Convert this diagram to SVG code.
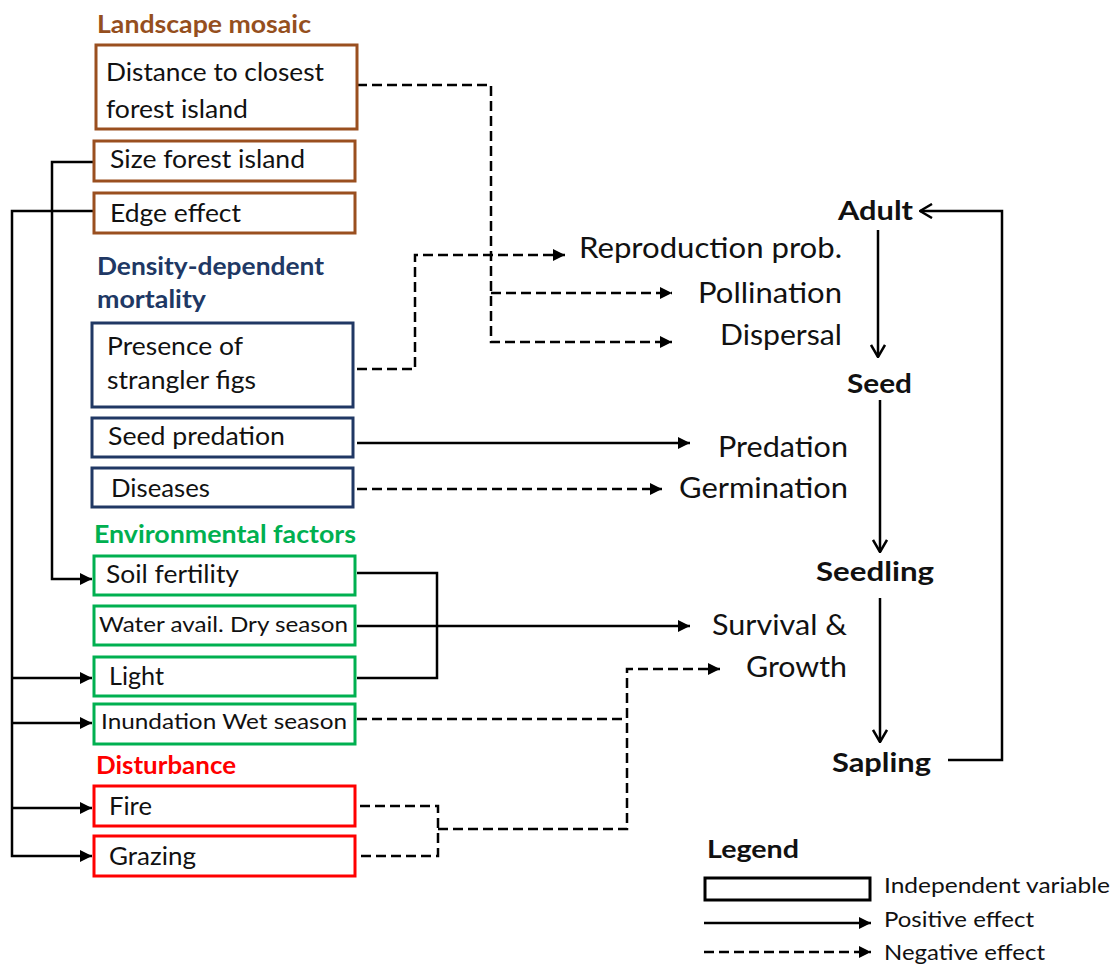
<svg xmlns="http://www.w3.org/2000/svg" width="1116" height="967" viewBox="0 0 1116 967">
<defs>
<style>
text{font-family:Lato,"Liberation Sans",sans-serif;fill:#111}
.hd{font-weight:bold;font-size:24px}
.bx{font-size:25px}
.sm{font-size:21.5px}
.lbl{font-size:29px}
.lc{font-weight:bold;font-size:27px}
.lg{font-size:21px}
.brown{stroke:#9A4F1F}
.navy{stroke:#203864}
.green{stroke:#00B050}
.red{stroke:#FF0000}
rect{fill:#fff;stroke-width:3}
.c{fill:none;stroke:#000;stroke-width:2.5}
.d{stroke-dasharray:10 5}
</style>
<marker id="ah" viewBox="0 0 10 10" refX="10" refY="5" markerWidth="12" markerHeight="12" markerUnits="userSpaceOnUse" orient="auto"><path d="M0,0 L10,5 L0,10 Z" fill="#000"/></marker>
<marker id="av" viewBox="0 0 14 16" refX="13" refY="8" markerWidth="14" markerHeight="16" markerUnits="userSpaceOnUse" orient="auto"><path d="M1,1 L13,8 L1,15" fill="none" stroke="#000" stroke-width="2.5"/></marker>
</defs>
<rect width="1116" height="967" style="fill:#fff;stroke:none"/>

<g id="headers">
<text class="hd" x="97" y="33" textLength="214" lengthAdjust="spacingAndGlyphs" style="fill:#954F1E">Landscape mosaic</text>
<text class="hd" x="97" y="275" textLength="227" lengthAdjust="spacingAndGlyphs" style="fill:#203864">Density-dependent</text>
<text class="hd" x="97" y="308" textLength="109" lengthAdjust="spacingAndGlyphs" style="fill:#203864">mortality</text>
<text class="hd" x="94" y="543" textLength="262" lengthAdjust="spacingAndGlyphs" style="fill:#00B050">Environmental factors</text>
<text class="hd" x="96" y="774" textLength="140" lengthAdjust="spacingAndGlyphs" style="fill:#FF0000">Disturbance</text>
</g>

<g id="connectors">
<path class="c d" d="M357,85 H491 V342 H672" marker-end="url(#ah)"/>
<path class="c d" d="M491,293 H672" marker-end="url(#ah)"/>
<path class="c d" d="M357,369 H415 V255 H565" marker-end="url(#ah)"/>
<path class="c" d="M357,443 H690" marker-end="url(#ah)"/>
<path class="c d" d="M357,489 H662" marker-end="url(#ah)"/>
<path class="c" d="M357,573 H437 V678 H357"/>
<path class="c" d="M357,626 H690" marker-end="url(#ah)"/>
<path class="c d" d="M357,719 H627"/>
<path class="c d" d="M360,806 H438 V856 H360"/>
<path class="c d" d="M438,829 H627 V669 H720" marker-end="url(#ah)"/>
<path class="c" d="M94,162 H52 V579 H92" marker-end="url(#ah)"/>
<path class="c" d="M94,211 H12 V856 H92" marker-end="url(#ah)"/>
<path class="c" d="M12,678 H92" marker-end="url(#ah)"/>
<path class="c" d="M12,723 H92" marker-end="url(#ah)"/>
<path class="c" d="M12,808 H92" marker-end="url(#ah)"/>
<path class="c" d="M878,230 V357" marker-end="url(#av)"/>
<path class="c" d="M880,400 V552" marker-end="url(#av)"/>
<path class="c" d="M880,598 V742" marker-end="url(#av)"/>
<path class="c" d="M948,760 H1002 V211 H920" marker-end="url(#av)"/>
</g>

<g id="distance"><rect class="brown" x="96" y="45" width="261" height="84"/><text class="bx" x="106" y="81" textLength="218" lengthAdjust="spacingAndGlyphs">Distance to closest</text><text class="bx" x="106" y="118" textLength="142" lengthAdjust="spacingAndGlyphs">forest island</text></g>
<g id="size"><rect class="brown" x="94" y="141" width="261" height="40"/><text class="bx" x="110" y="168" textLength="195" lengthAdjust="spacingAndGlyphs">Size forest island</text></g>
<g id="edge"><rect class="brown" x="94" y="193" width="261" height="40"/><text class="bx" x="110" y="222" textLength="131" lengthAdjust="spacingAndGlyphs">Edge effect</text></g>
<g id="strangler"><rect class="navy" x="92" y="323" width="261" height="84"/><text class="bx" x="107" y="355" textLength="136" lengthAdjust="spacingAndGlyphs">Presence of</text><text class="bx" x="107" y="389" textLength="149" lengthAdjust="spacingAndGlyphs">strangler figs</text></g>
<g id="seedpred"><rect class="navy" x="92" y="418" width="261" height="39"/><text class="bx" x="108" y="445" textLength="177" lengthAdjust="spacingAndGlyphs">Seed predation</text></g>
<g id="diseases"><rect class="navy" x="92" y="468" width="261" height="39"/><text class="bx" x="111" y="497" textLength="99" lengthAdjust="spacingAndGlyphs">Diseases</text></g>
<g id="soil"><rect class="green" x="94" y="556" width="261" height="39"/><text class="bx" x="106" y="583" textLength="133" lengthAdjust="spacingAndGlyphs">Soil fertility</text></g>
<g id="water"><rect class="green" x="94" y="606" width="261" height="39"/><text class="sm" x="99" y="632" textLength="249" lengthAdjust="spacingAndGlyphs">Water avail. Dry season</text></g>
<g id="light"><rect class="green" x="94" y="657" width="261" height="39"/><text class="bx" x="109" y="685" textLength="55" lengthAdjust="spacingAndGlyphs">Light</text></g>
<g id="inundation"><rect class="green" x="94" y="704" width="261" height="40"/><text class="sm" x="101" y="729" textLength="246" lengthAdjust="spacingAndGlyphs">Inundation Wet season</text></g>
<g id="fire"><rect class="red" x="94" y="786" width="261" height="40"/><text class="bx" x="109" y="815" textLength="43" lengthAdjust="spacingAndGlyphs">Fire</text></g>
<g id="grazing"><rect class="red" x="94" y="836" width="261" height="40"/><text class="bx" x="109" y="865" textLength="87" lengthAdjust="spacingAndGlyphs">Grazing</text></g>

<g id="processes">
<text class="lbl" x="579" y="258" textLength="263" lengthAdjust="spacingAndGlyphs">Reproduction prob.</text>
<text class="lbl" x="698" y="303" textLength="144" lengthAdjust="spacingAndGlyphs">Pollination</text>
<text class="lbl" x="720" y="345" textLength="122" lengthAdjust="spacingAndGlyphs">Dispersal</text>
<text class="lbl" x="718" y="457" textLength="130" lengthAdjust="spacingAndGlyphs">Predation</text>
<text class="lbl" x="679" y="498" textLength="169" lengthAdjust="spacingAndGlyphs">Germination</text>
<text class="lbl" x="712" y="635" textLength="135" lengthAdjust="spacingAndGlyphs">Survival &amp;</text>
<text class="lbl" x="746" y="677" textLength="101" lengthAdjust="spacingAndGlyphs">Growth</text>
</g>

<g id="adult"><text class="lc" x="838" y="220" textLength="75" lengthAdjust="spacingAndGlyphs">Adult</text></g>
<g id="seed"><text class="lc" x="847" y="393" textLength="65" lengthAdjust="spacingAndGlyphs">Seed</text></g>
<g id="seedling"><text class="lc" x="816" y="581" textLength="118" lengthAdjust="spacingAndGlyphs">Seedling</text></g>
<g id="sapling"><text class="lc" x="832" y="772" textLength="99" lengthAdjust="spacingAndGlyphs">Sapling</text></g>

<g id="legend">
<text class="lc" x="707" y="858" textLength="92" lengthAdjust="spacingAndGlyphs" style="font-size:25px">Legend</text>
<rect x="705" y="878" width="165" height="22" style="stroke:#000;stroke-width:3"/>
<text class="lg" x="884" y="893" textLength="226" lengthAdjust="spacingAndGlyphs">Independent variable</text>
<path class="c" d="M704,923 H871" marker-end="url(#ah)"/>
<text class="lg" x="884" y="927" textLength="150" lengthAdjust="spacingAndGlyphs">Positive effect</text>
<path class="c d" d="M704,952 H871" marker-end="url(#ah)"/>
<text class="lg" x="884" y="960" textLength="161" lengthAdjust="spacingAndGlyphs">Negative effect</text>
</g>
</svg>
